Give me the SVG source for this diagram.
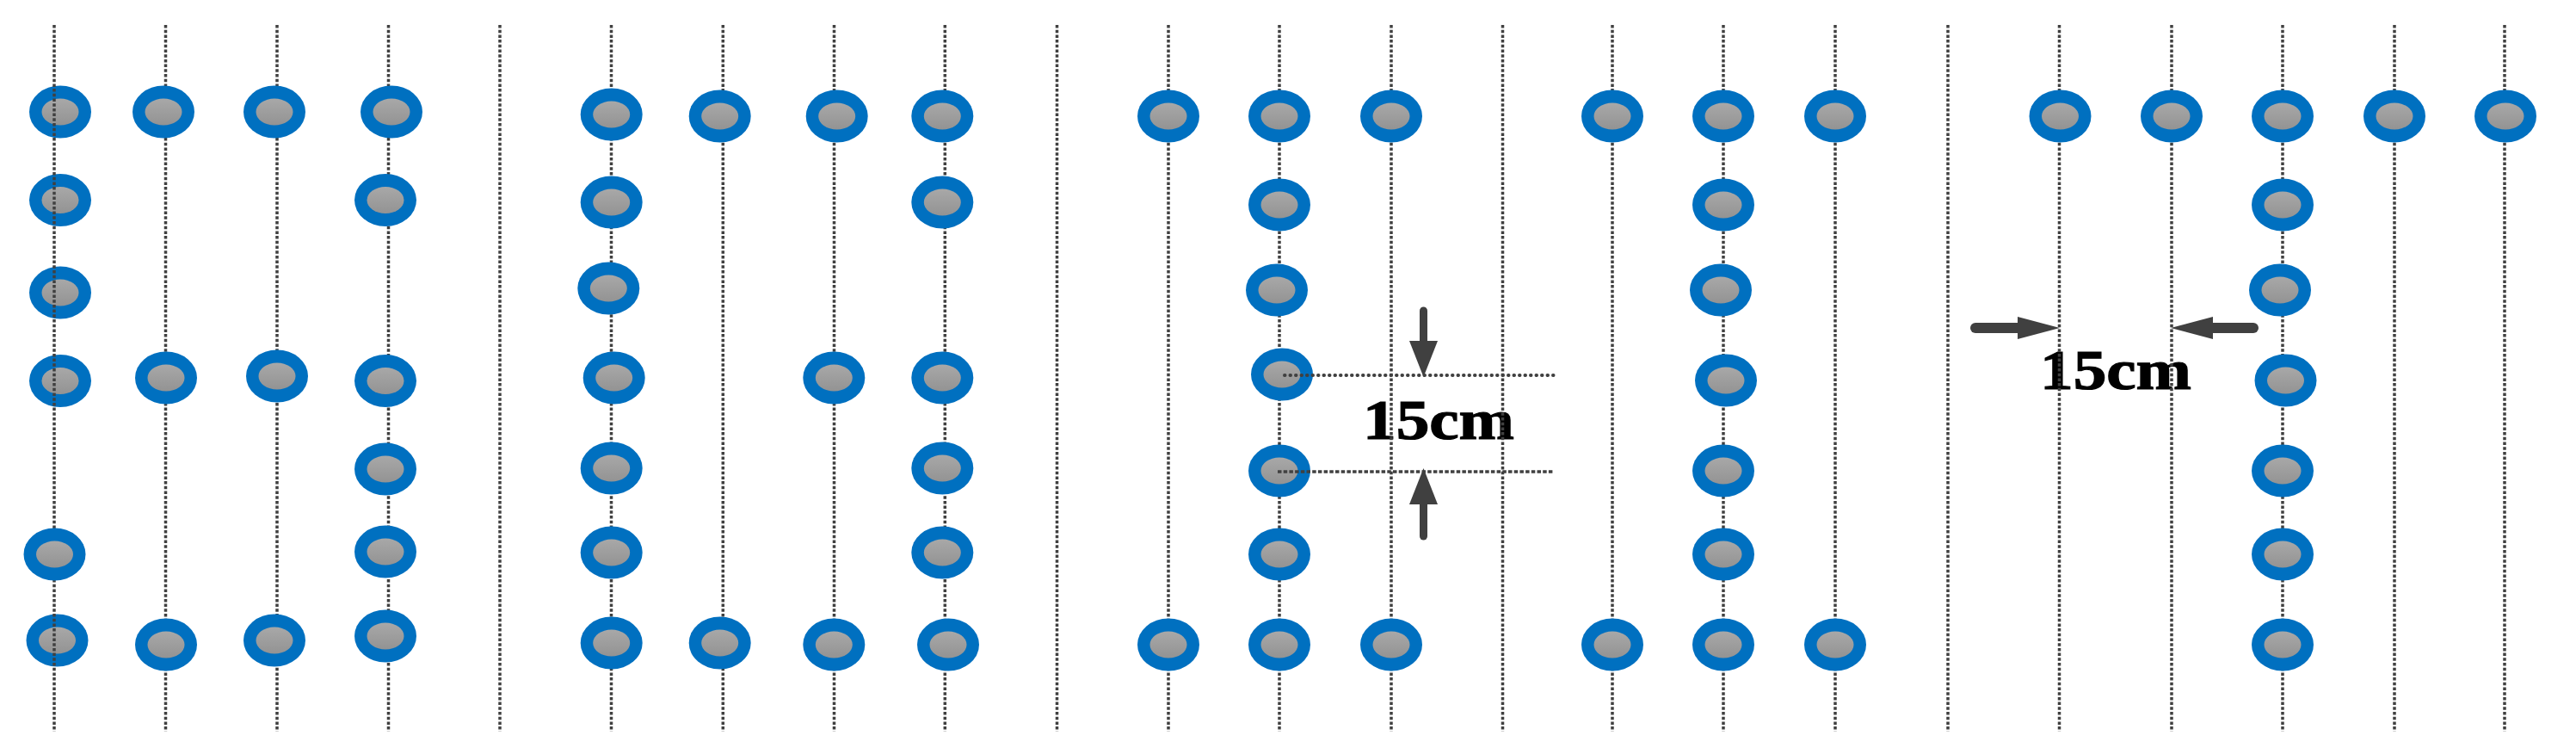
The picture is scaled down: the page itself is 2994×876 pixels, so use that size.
<svg xmlns="http://www.w3.org/2000/svg" width="2994" height="876" viewBox="0 0 2994 876">
<style>
.o{fill:#0070c0}
.i{fill:url(#g)}
.v{stroke:#404040;stroke-width:3.5;stroke-dasharray:3.5 2.2;fill:none}
.d{stroke:#404040;stroke-width:4;stroke-linecap:round;stroke-dasharray:.5 6;fill:none}
.e{stroke:#404040;stroke-width:3.5;stroke-dasharray:4.5 2.2;fill:none}
.as{stroke:#404040;stroke-width:9;stroke-linecap:round;fill:none}
.ah{stroke:#404040;stroke-width:12;stroke-linecap:round;fill:none}
.t{font-family:"Liberation Serif","Times New Roman",serif;font-weight:bold;font-size:65px;fill:#000;stroke:#000;stroke-width:1.2}
</style>
<defs>
<linearGradient id="g" x1="0" y1="0" x2="0" y2="1"><stop offset="0" stop-color="#a8a8a8"/><stop offset="1" stop-color="#939393"/></linearGradient>
<marker id="hv" markerUnits="userSpaceOnUse" markerWidth="44" markerHeight="34" refX="0" refY="17" orient="auto"><path d="M0 0.5 L42 17 L0 33.5Z" fill="#404040"/></marker>
<marker id="hh" markerUnits="userSpaceOnUse" markerWidth="50" markerHeight="28" refX="0" refY="14" orient="auto"><path d="M0 1 L49 14 L0 27Z" fill="#404040"/></marker>
</defs>
<text id="label-vertical" class="t" x="1584" y="510" textLength="176" lengthAdjust="spacingAndGlyphs">15cm</text>
<text id="label-horizontal" class="t" x="2371" y="452" textLength="176" lengthAdjust="spacingAndGlyphs">15cm</text>
<g id="node-a1"><ellipse class="o" cx="70" cy="130" rx="36" ry="30.5"/><ellipse class="i" cx="70" cy="130" rx="21.5" ry="15.5"/></g>
<g id="node-a2"><ellipse class="o" cx="70" cy="232.5" rx="36" ry="30.5"/><ellipse class="i" cx="70" cy="232.5" rx="21.5" ry="15.5"/></g>
<g id="node-a3"><ellipse class="o" cx="70" cy="340" rx="36" ry="30.5"/><ellipse class="i" cx="70" cy="340" rx="21.5" ry="15.5"/></g>
<g id="node-a4"><ellipse class="o" cx="70" cy="442.5" rx="36" ry="30.5"/><ellipse class="i" cx="70" cy="442.5" rx="21.5" ry="15.5"/></g>
<g id="node-a6"><ellipse class="o" cx="66.5" cy="744" rx="36" ry="30.5"/><ellipse class="i" cx="66.5" cy="744" rx="21.5" ry="15.5"/></g>
<g id="connectors">
<line class="v" x1="63" y1="29" x2="63" y2="850"/>
<line class="v" x1="192.5" y1="29" x2="192.5" y2="850"/>
<line class="v" x1="322" y1="29" x2="322" y2="850"/>
<line class="v" x1="451.5" y1="29" x2="451.5" y2="850"/>
<line class="v" x1="581" y1="29" x2="581" y2="850"/>
<line class="v" x1="710.5" y1="29" x2="710.5" y2="850"/>
<line class="v" x1="840.3" y1="29" x2="840.3" y2="850"/>
<line class="v" x1="969.5" y1="29" x2="969.5" y2="850"/>
<line class="v" x1="1098.3" y1="29" x2="1098.3" y2="850"/>
<line class="v" x1="1228.5" y1="29" x2="1228.5" y2="850"/>
<line class="v" x1="1358" y1="29" x2="1358" y2="850"/>
<line class="v" x1="1487" y1="29" x2="1487" y2="850"/>
<line class="v" x1="1617" y1="29" x2="1617" y2="850"/>
<line class="v" x1="1746.5" y1="29" x2="1746.5" y2="850"/>
<line class="v" x1="1874" y1="29" x2="1874" y2="850"/>
<line class="v" x1="2003" y1="29" x2="2003" y2="850"/>
<line class="v" x1="2133" y1="29" x2="2133" y2="850"/>
<line class="v" x1="2264" y1="29" x2="2264" y2="850"/>
<line class="v" x1="2393.5" y1="29" x2="2393.5" y2="850"/>
<line class="v" x1="2524" y1="29" x2="2524" y2="850"/>
<line class="v" x1="2653" y1="29" x2="2653" y2="850"/>
<line class="v" x1="2783" y1="29" x2="2783" y2="850"/>
<line class="v" x1="2911" y1="29" x2="2911" y2="850"/>
</g>
<g id="node-a5"><ellipse class="o" cx="63.5" cy="644" rx="36" ry="30.5"/><ellipse class="i" cx="63.5" cy="644" rx="21.5" ry="15.5"/></g>
<g id="node-b1"><ellipse class="o" cx="190" cy="130" rx="36" ry="30.5"/><ellipse class="i" cx="190" cy="130" rx="21.5" ry="15.5"/></g>
<g id="node-b2"><ellipse class="o" cx="193" cy="439" rx="36" ry="30.5"/><ellipse class="i" cx="193" cy="439" rx="21.5" ry="15.5"/></g>
<g id="node-b3"><ellipse class="o" cx="193" cy="749" rx="36" ry="30.5"/><ellipse class="i" cx="193" cy="749" rx="21.5" ry="15.5"/></g>
<g id="node-c1"><ellipse class="o" cx="319" cy="130" rx="36" ry="30.5"/><ellipse class="i" cx="319" cy="130" rx="21.5" ry="15.5"/></g>
<g id="node-c2"><ellipse class="o" cx="322" cy="437" rx="36" ry="30.5"/><ellipse class="i" cx="322" cy="437" rx="21.5" ry="15.5"/></g>
<g id="node-c3"><ellipse class="o" cx="319" cy="744" rx="36" ry="30.5"/><ellipse class="i" cx="319" cy="744" rx="21.5" ry="15.5"/></g>
<g id="node-d1"><ellipse class="o" cx="455" cy="130" rx="36" ry="30.5"/><ellipse class="i" cx="455" cy="130" rx="21.5" ry="15.5"/></g>
<g id="node-d2"><ellipse class="o" cx="448" cy="232.5" rx="36" ry="30.5"/><ellipse class="i" cx="448" cy="232.5" rx="21.5" ry="15.5"/></g>
<g id="node-d3"><ellipse class="o" cx="448" cy="442.5" rx="36" ry="30.5"/><ellipse class="i" cx="448" cy="442.5" rx="21.5" ry="15.5"/></g>
<g id="node-d4"><ellipse class="o" cx="448" cy="545" rx="36" ry="30.5"/><ellipse class="i" cx="448" cy="545" rx="21.5" ry="15.5"/></g>
<g id="node-d5"><ellipse class="o" cx="448" cy="641" rx="36" ry="30.5"/><ellipse class="i" cx="448" cy="641" rx="21.5" ry="15.5"/></g>
<g id="node-d6"><ellipse class="o" cx="448" cy="739" rx="36" ry="30.5"/><ellipse class="i" cx="448" cy="739" rx="21.5" ry="15.5"/></g>
<g id="node-e1"><ellipse class="o" cx="710.7" cy="133" rx="36" ry="30.5"/><ellipse class="i" cx="710.7" cy="133" rx="21.5" ry="15.5"/></g>
<g id="node-e2"><ellipse class="o" cx="710.7" cy="235" rx="36" ry="30.5"/><ellipse class="i" cx="710.7" cy="235" rx="21.5" ry="15.5"/></g>
<g id="node-e3"><ellipse class="o" cx="707.3" cy="335" rx="36" ry="30.5"/><ellipse class="i" cx="707.3" cy="335" rx="21.5" ry="15.5"/></g>
<g id="node-e4"><ellipse class="o" cx="713.7" cy="439" rx="36" ry="30.5"/><ellipse class="i" cx="713.7" cy="439" rx="21.5" ry="15.5"/></g>
<g id="node-e5"><ellipse class="o" cx="710.7" cy="544" rx="36" ry="30.5"/><ellipse class="i" cx="710.7" cy="544" rx="21.5" ry="15.5"/></g>
<g id="node-e6"><ellipse class="o" cx="710.7" cy="642" rx="36" ry="30.5"/><ellipse class="i" cx="710.7" cy="642" rx="21.5" ry="15.5"/></g>
<g id="node-e7"><ellipse class="o" cx="710.7" cy="747" rx="36" ry="30.5"/><ellipse class="i" cx="710.7" cy="747" rx="21.5" ry="15.5"/></g>
<g id="node-f1"><ellipse class="o" cx="836.7" cy="135" rx="36" ry="30.5"/><ellipse class="i" cx="836.7" cy="135" rx="21.5" ry="15.5"/></g>
<g id="node-f2"><ellipse class="o" cx="836.7" cy="747" rx="36" ry="30.5"/><ellipse class="i" cx="836.7" cy="747" rx="21.5" ry="15.5"/></g>
<g id="node-g1"><ellipse class="o" cx="972.7" cy="135" rx="36" ry="30.5"/><ellipse class="i" cx="972.7" cy="135" rx="21.5" ry="15.5"/></g>
<g id="node-g2"><ellipse class="o" cx="969.3" cy="439" rx="36" ry="30.5"/><ellipse class="i" cx="969.3" cy="439" rx="21.5" ry="15.5"/></g>
<g id="node-g3"><ellipse class="o" cx="969.3" cy="749" rx="36" ry="30.5"/><ellipse class="i" cx="969.3" cy="749" rx="21.5" ry="15.5"/></g>
<g id="node-h1"><ellipse class="o" cx="1095.3" cy="135" rx="36" ry="30.5"/><ellipse class="i" cx="1095.3" cy="135" rx="21.5" ry="15.5"/></g>
<g id="node-h2"><ellipse class="o" cx="1095.3" cy="235" rx="36" ry="30.5"/><ellipse class="i" cx="1095.3" cy="235" rx="21.5" ry="15.5"/></g>
<g id="node-h3"><ellipse class="o" cx="1095.3" cy="439" rx="36" ry="30.5"/><ellipse class="i" cx="1095.3" cy="439" rx="21.5" ry="15.5"/></g>
<g id="node-h4"><ellipse class="o" cx="1095.3" cy="544" rx="36" ry="30.5"/><ellipse class="i" cx="1095.3" cy="544" rx="21.5" ry="15.5"/></g>
<g id="node-h5"><ellipse class="o" cx="1095.3" cy="642" rx="36" ry="30.5"/><ellipse class="i" cx="1095.3" cy="642" rx="21.5" ry="15.5"/></g>
<g id="node-h6"><ellipse class="o" cx="1102" cy="749" rx="36" ry="30.5"/><ellipse class="i" cx="1102" cy="749" rx="21.5" ry="15.5"/></g>
<g id="node-i1"><ellipse class="o" cx="1358" cy="135" rx="36" ry="30.5"/><ellipse class="i" cx="1358" cy="135" rx="21.5" ry="15.5"/></g>
<g id="node-i2"><ellipse class="o" cx="1358" cy="749" rx="36" ry="30.5"/><ellipse class="i" cx="1358" cy="749" rx="21.5" ry="15.5"/></g>
<g id="node-j1"><ellipse class="o" cx="1487" cy="135" rx="36" ry="30.5"/><ellipse class="i" cx="1487" cy="135" rx="21.5" ry="15.5"/></g>
<g id="node-j2"><ellipse class="o" cx="1487" cy="238" rx="36" ry="30.5"/><ellipse class="i" cx="1487" cy="238" rx="21.5" ry="15.5"/></g>
<g id="node-j3"><ellipse class="o" cx="1484" cy="337" rx="36" ry="30.5"/><ellipse class="i" cx="1484" cy="337" rx="21.5" ry="15.5"/></g>
<g id="node-j4"><ellipse class="o" cx="1490" cy="435" rx="36" ry="30.5"/><ellipse class="i" cx="1490" cy="435" rx="21.5" ry="15.5"/></g>
<g id="node-j5"><ellipse class="o" cx="1487" cy="547" rx="36" ry="30.5"/><ellipse class="i" cx="1487" cy="547" rx="21.5" ry="15.5"/></g>
<g id="node-j6"><ellipse class="o" cx="1487" cy="644" rx="36" ry="30.5"/><ellipse class="i" cx="1487" cy="644" rx="21.5" ry="15.5"/></g>
<g id="node-j7"><ellipse class="o" cx="1487" cy="749" rx="36" ry="30.5"/><ellipse class="i" cx="1487" cy="749" rx="21.5" ry="15.5"/></g>
<g id="node-k1"><ellipse class="o" cx="1617" cy="135" rx="36" ry="30.5"/><ellipse class="i" cx="1617" cy="135" rx="21.5" ry="15.5"/></g>
<g id="node-k2"><ellipse class="o" cx="1617" cy="749" rx="36" ry="30.5"/><ellipse class="i" cx="1617" cy="749" rx="21.5" ry="15.5"/></g>
<g id="node-l1"><ellipse class="o" cx="1874" cy="135" rx="36" ry="30.5"/><ellipse class="i" cx="1874" cy="135" rx="21.5" ry="15.5"/></g>
<g id="node-l2"><ellipse class="o" cx="1874" cy="749" rx="36" ry="30.5"/><ellipse class="i" cx="1874" cy="749" rx="21.5" ry="15.5"/></g>
<g id="node-m1"><ellipse class="o" cx="2003" cy="135" rx="36" ry="30.5"/><ellipse class="i" cx="2003" cy="135" rx="21.5" ry="15.5"/></g>
<g id="node-m2"><ellipse class="o" cx="2003" cy="238" rx="36" ry="30.5"/><ellipse class="i" cx="2003" cy="238" rx="21.5" ry="15.5"/></g>
<g id="node-m3"><ellipse class="o" cx="2000" cy="337" rx="36" ry="30.5"/><ellipse class="i" cx="2000" cy="337" rx="21.5" ry="15.5"/></g>
<g id="node-m4"><ellipse class="o" cx="2006" cy="442" rx="36" ry="30.5"/><ellipse class="i" cx="2006" cy="442" rx="21.5" ry="15.5"/></g>
<g id="node-m5"><ellipse class="o" cx="2003" cy="547" rx="36" ry="30.5"/><ellipse class="i" cx="2003" cy="547" rx="21.5" ry="15.5"/></g>
<g id="node-m6"><ellipse class="o" cx="2003" cy="644" rx="36" ry="30.5"/><ellipse class="i" cx="2003" cy="644" rx="21.5" ry="15.5"/></g>
<g id="node-m7"><ellipse class="o" cx="2003" cy="749" rx="36" ry="30.5"/><ellipse class="i" cx="2003" cy="749" rx="21.5" ry="15.5"/></g>
<g id="node-n1"><ellipse class="o" cx="2133" cy="135" rx="36" ry="30.5"/><ellipse class="i" cx="2133" cy="135" rx="21.5" ry="15.5"/></g>
<g id="node-n2"><ellipse class="o" cx="2133" cy="749" rx="36" ry="30.5"/><ellipse class="i" cx="2133" cy="749" rx="21.5" ry="15.5"/></g>
<g id="node-p1"><ellipse class="o" cx="2394.5" cy="135" rx="36" ry="30.5"/><ellipse class="i" cx="2394.5" cy="135" rx="21.5" ry="15.5"/></g>
<g id="node-q1"><ellipse class="o" cx="2524" cy="135" rx="36" ry="30.5"/><ellipse class="i" cx="2524" cy="135" rx="21.5" ry="15.5"/></g>
<g id="node-r1"><ellipse class="o" cx="2653" cy="135" rx="36" ry="30.5"/><ellipse class="i" cx="2653" cy="135" rx="21.5" ry="15.5"/></g>
<g id="node-r2"><ellipse class="o" cx="2653" cy="238" rx="36" ry="30.5"/><ellipse class="i" cx="2653" cy="238" rx="21.5" ry="15.5"/></g>
<g id="node-r3"><ellipse class="o" cx="2650" cy="337" rx="36" ry="30.5"/><ellipse class="i" cx="2650" cy="337" rx="21.5" ry="15.5"/></g>
<g id="node-r4"><ellipse class="o" cx="2656.5" cy="442" rx="36" ry="30.5"/><ellipse class="i" cx="2656.5" cy="442" rx="21.5" ry="15.5"/></g>
<g id="node-r5"><ellipse class="o" cx="2653" cy="547" rx="36" ry="30.5"/><ellipse class="i" cx="2653" cy="547" rx="21.5" ry="15.5"/></g>
<g id="node-r6"><ellipse class="o" cx="2653" cy="644" rx="36" ry="30.5"/><ellipse class="i" cx="2653" cy="644" rx="21.5" ry="15.5"/></g>
<g id="node-r7"><ellipse class="o" cx="2653" cy="749" rx="36" ry="30.5"/><ellipse class="i" cx="2653" cy="749" rx="21.5" ry="15.5"/></g>
<g id="node-s1"><ellipse class="o" cx="2783" cy="135" rx="36" ry="30.5"/><ellipse class="i" cx="2783" cy="135" rx="21.5" ry="15.5"/></g>
<g id="node-t1"><ellipse class="o" cx="2912" cy="135" rx="36" ry="30.5"/><ellipse class="i" cx="2912" cy="135" rx="21.5" ry="15.5"/></g>
<g id="dimensions">
<line class="d" x1="1493" y1="436" x2="1811" y2="436"/>
<line class="e" x1="1485" y1="548" x2="1805" y2="548"/>
<line class="as" x1="1654.5" y1="361" x2="1654.5" y2="396" marker-end="url(#hv)"/>
<line class="as" x1="1654.5" y1="623" x2="1654.5" y2="586" marker-end="url(#hv)"/>
<line class="ah" x1="2296" y1="381" x2="2345" y2="381" marker-end="url(#hh)"/>
<line class="ah" x1="2619" y1="381" x2="2572" y2="381" marker-end="url(#hh)"/>
</g>
</svg>
